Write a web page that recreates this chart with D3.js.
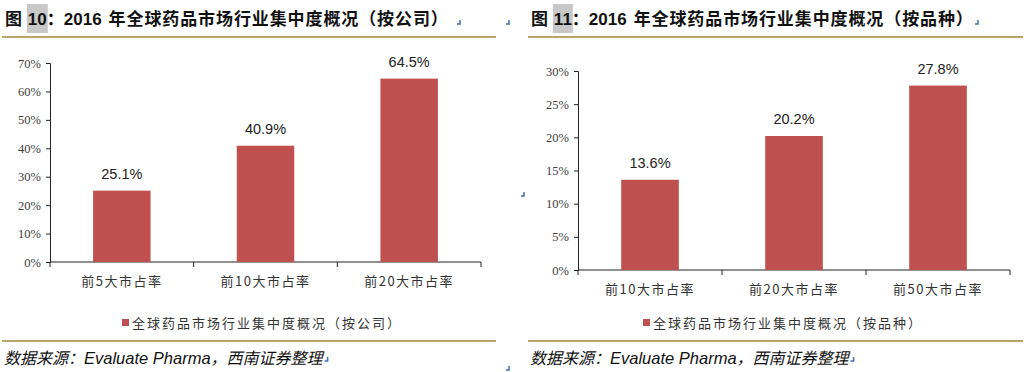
<!DOCTYPE html>
<html>
<head>
<meta charset="utf-8">
<script src="https://cdn.jsdelivr.net/npm/d3@7"></script>
<style>
body{margin:0;background:#fff;}
svg{display:block;}
.tick text{font-family:"Liberation Serif",serif;}
</style>
</head>
<body>
<svg id="chart" width="1026" height="372"></svg>
<script>
// chart data
var companyCats = ["前5大市占率", "前10大市占率", "前20大市占率"]
var companyVals = [0.251, 0.409, 0.645]
var companyTicks = [0, 0.1, 0.2, 0.3, 0.4, 0.5, 0.6, 0.7]

var drugCats = ["前10大市占率", "前20大市占率", "前50大市占率"]
var drugVals = [0.136, 0.202, 0.278]
var drugTicks = [0, 0.05, 0.1, 0.15, 0.2, 0.25, 0.3]

var titles = [
	{num: "10", year: "2016", rest: "年全球药品市场行业集中度概况（按公司）"},
	{num: "11", year: "2016", rest: "年全球药品市场行业集中度概况（按品种）"}
]
var legendNames = ["全球药品市场行业集中度概况（按公司）", "全球药品市场行业集中度概况（按品种）"]
var sourceParts = ["数据来源：", "Evaluate Pharma", "，西南证券整理"]

var barColor = "#c0504d"
var goldColor = "#b9a46e"
var markColor = "#3f6fb5"
var cjk = "'Noto Sans CJK SC', sans-serif"
var latin = "'Liberation Sans', Arial, sans-serif"

var svg = d3.select("#chart")

function drawPanel(opt){
	var g = svg.append("g")

	// title
	var tg = g.append("g")
	var t = tg.append("text")
		.attr("x", opt.left)
		.attr("y", 25)
		.attr("font-family", cjk)
		.attr("font-size", 17)
		.attr("font-weight", "bold")
		.attr("fill", "#111")
	t.append("tspan").text("图 ")
	var numSpan = t.append("tspan").attr("font-family", latin).attr("dx", 2).text(opt.title.num)
	t.append("tspan").text("：")
	t.append("tspan").attr("font-family", latin).text(opt.title.year)
	t.append("tspan").attr("dx", 7).attr("letter-spacing", 0.9).text(opt.title.rest)
	// grey box behind the figure number
	var ext = numSpan.node().getExtentOfChar(0)
	var ext2 = numSpan.node().getExtentOfChar(1)
	tg.insert("rect", "text")
		.attr("x", ext.x - 1)
		.attr("y", 4)
		.attr("width", ext2.x + ext2.width - ext.x + 2)
		.attr("height", 29)
		.attr("fill", "#c8c8c8")

	// gold rules
	g.append("line")
		.attr("x1", opt.ruleX[0]).attr("x2", opt.ruleX[1])
		.attr("y1", 37).attr("y2", 37)
		.attr("stroke", goldColor).attr("stroke-width", 2)
	g.append("line")
		.attr("x1", opt.ruleX[0]).attr("x2", opt.ruleX[1])
		.attr("y1", 341).attr("y2", 341)
		.attr("stroke", goldColor).attr("stroke-width", 2)

	var x = d3.scaleBand()
		.domain(opt.cats)
		.range(opt.xr)
		.paddingInner(0.6)
		.paddingOuter(0.3)
	var y = d3.scaleLinear()
		.domain([0, opt.max])
		.range(opt.yr)

	// y axis
	var yAxis = g.append("g")
		.attr("transform", "translate(" + opt.xr[0] + ",0)")
		.call(d3.axisLeft(y).tickValues(opt.ticks).tickSize(4).tickPadding(5)
			.tickFormat(d3.format(".0%")))
	yAxis.selectAll("text").attr("font-size", 12.5).attr("fill", "#404040")
	yAxis.selectAll("line, path").attr("stroke", "#222")

	// x axis: line + ticks at the band borders
	var xAxis = g.append("g")
		.attr("transform", "translate(0," + opt.yr[0] + ")")
	xAxis.append("line")
		.attr("x1", opt.xr[0]).attr("x2", opt.xr[1])
		.attr("stroke", "#222")
	var borders = d3.range(opt.cats.length + 1).map(function(i){ return opt.xr[0] + i * x.step() })
	xAxis.selectAll(".bt")
		.data(borders)
	.enter().append("line")
		.classed("bt", true)
		.attr("x1", function(d){ return d }).attr("x2", function(d){ return d })
		.attr("y1", 0).attr("y2", 5)
		.attr("stroke", "#222")
	xAxis.selectAll(".cl")
		.data(opt.cats)
	.enter().append("text")
		.classed("cl", true)
		.attr("x", function(d){ return x(d) + x.bandwidth()/2 })
		.attr("y", 24)
		.attr("text-anchor", "middle")
		.attr("font-family", cjk)
		.attr("font-size", 13)
		.attr("letter-spacing", 1.5)
		.attr("fill", "#333")
		.text(function(d){ return d })

	// bars
	var data = opt.cats.map(function(c, i){ return {cat: c, v: opt.vals[i]} })
	g.selectAll(".bar")
		.data(data)
	.enter().append("rect")
		.classed("bar", true)
		.attr("x", function(d){ return x(d.cat) })
		.attr("y", function(d){ return y(d.v) })
		.attr("width", x.bandwidth())
		.attr("height", function(d){ return y(0) - y(d.v) })
		.attr("fill", barColor)
	g.selectAll(".vl")
		.data(data)
	.enter().append("text")
		.classed("vl", true)
		.attr("x", function(d){ return x(d.cat) + x.bandwidth()/2 })
		.attr("y", function(d){ return y(d.v) - 12 })
		.attr("text-anchor", "middle")
		.attr("font-family", latin)
		.attr("font-size", 14.5)
		.attr("fill", "#222")
		.text(function(d){ return d3.format(".1%")(d.v) })

	// legend
	var lg = g.append("g")
	lg.append("text")
		.attr("x", opt.legendX + 10)
		.attr("y", 328)
		.attr("font-family", cjk)
		.attr("font-size", 13)
		.attr("letter-spacing", 2)
		.attr("fill", "#333")
		.text(opt.legend)
	lg.append("rect")
		.attr("x", opt.legendX)
		.attr("y", 319)
		.attr("width", 7).attr("height", 7)
		.attr("fill", barColor)

	// source
	var st = g.append("text")
		.attr("x", opt.left - 1)
		.attr("y", 364)
		.attr("font-family", cjk)
		.attr("font-size", 16)
		.attr("font-style", "italic")
		.attr("fill", "#111")
	st.append("tspan").text(sourceParts[0])
	st.append("tspan").attr("font-family", latin).attr("font-size", 16.5).text(sourceParts[1])
	st.append("tspan").text(sourceParts[2])
	var send = st.node().getComputedTextLength()
	mark(g, opt.left + send + 4, 361)
	return g
}

// small blue paragraph marks
function mark(g, x, y){
	g.append("path")
		.attr("d", "M" + x + "," + (y - 4) + "V" + y + "H" + (x - 3))
		.attr("fill", "none")
		.attr("stroke", markColor)
		.attr("stroke-width", 1.5)
}

drawPanel({
	title: titles[0], left: 5, ruleX: [2, 496],
	cats: companyCats, vals: companyVals, ticks: companyTicks, max: 0.7,
	xr: [50, 481], yr: [262, 63],
	legend: legendNames[0], legendX: 122
})
drawPanel({
	title: titles[1], left: 531, ruleX: [528, 1023],
	cats: drugCats, vals: drugVals, ticks: drugTicks, max: 0.3,
	xr: [578, 1010], yr: [270, 71],
	legend: legendNames[1], legendX: 643
})
mark(svg, 460, 24)
mark(svg, 509, 24)
mark(svg, 978, 24)
mark(svg, 524, 196)
mark(svg, 509, 370)
</script>
</body>
</html>
